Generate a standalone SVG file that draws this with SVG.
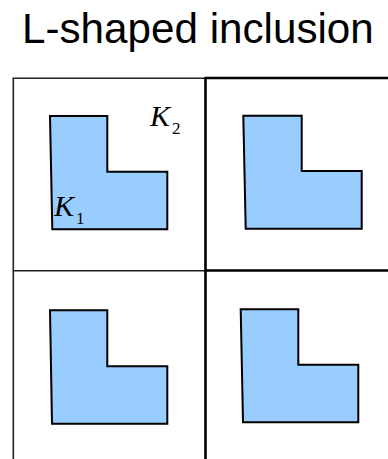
<svg xmlns="http://www.w3.org/2000/svg" width="388" height="459" viewBox="0 0 388 459">
<style>
.title{font-family:"Liberation Sans",Arial,sans-serif;font-size:42.2px;fill:#000}
.lab{font-family:"Liberation Serif","Times New Roman",serif;font-style:italic;font-size:30px;fill:#000}
.sub{font-family:"Liberation Serif","Times New Roman",serif;font-size:17px;fill:#000}
.thin{stroke:#222;stroke-width:1.6;fill:none}
.thick{stroke:#000;stroke-width:2.6;fill:none}
.incl{fill:#99ccff;stroke:#000;stroke-width:2;stroke-linejoin:miter}
</style>
<rect width="388" height="459" fill="#fff"/>
<text class="title" x="22" y="42.5">L-shaped inclusion</text>
<g id="grid">
  <path class="thin" d="M13.3,459 V78.3 H205 M13.3,270.7 H205"/>
  <path class="thick" d="M205.5,78 H388 M205.5,270.5 H388 M205.5,77 V459"/>
</g>
<g id="cell-tl">
  <polygon class="incl" points="50,116 107.3,116 107.3,171.7 167.3,171.7 167.3,229.3 52.3,229.3"/>
  <text class="lab" x="150" y="126">K</text><text class="sub" x="172" y="134">2</text>
  <text class="lab" x="54" y="216">K</text><text class="sub" x="76" y="224">1</text>
</g>
<g id="cell-tr">
  <polygon class="incl" points="243.3,115.7 301.7,115.7 301.7,171 361.7,171 361.7,228.7 245.7,228.7"/>
</g>
<g id="cell-bl">
  <polygon class="incl" points="50,310.3 107.3,310.3 107.3,366.3 167.3,366.3 167.3,423.7 52,423.7"/>
</g>
<g id="cell-br">
  <polygon class="incl" points="240.7,309.3 298.3,309.3 298.3,364.7 358.3,364.7 358.3,422.3 243,422.3"/>
</g>
</svg>
